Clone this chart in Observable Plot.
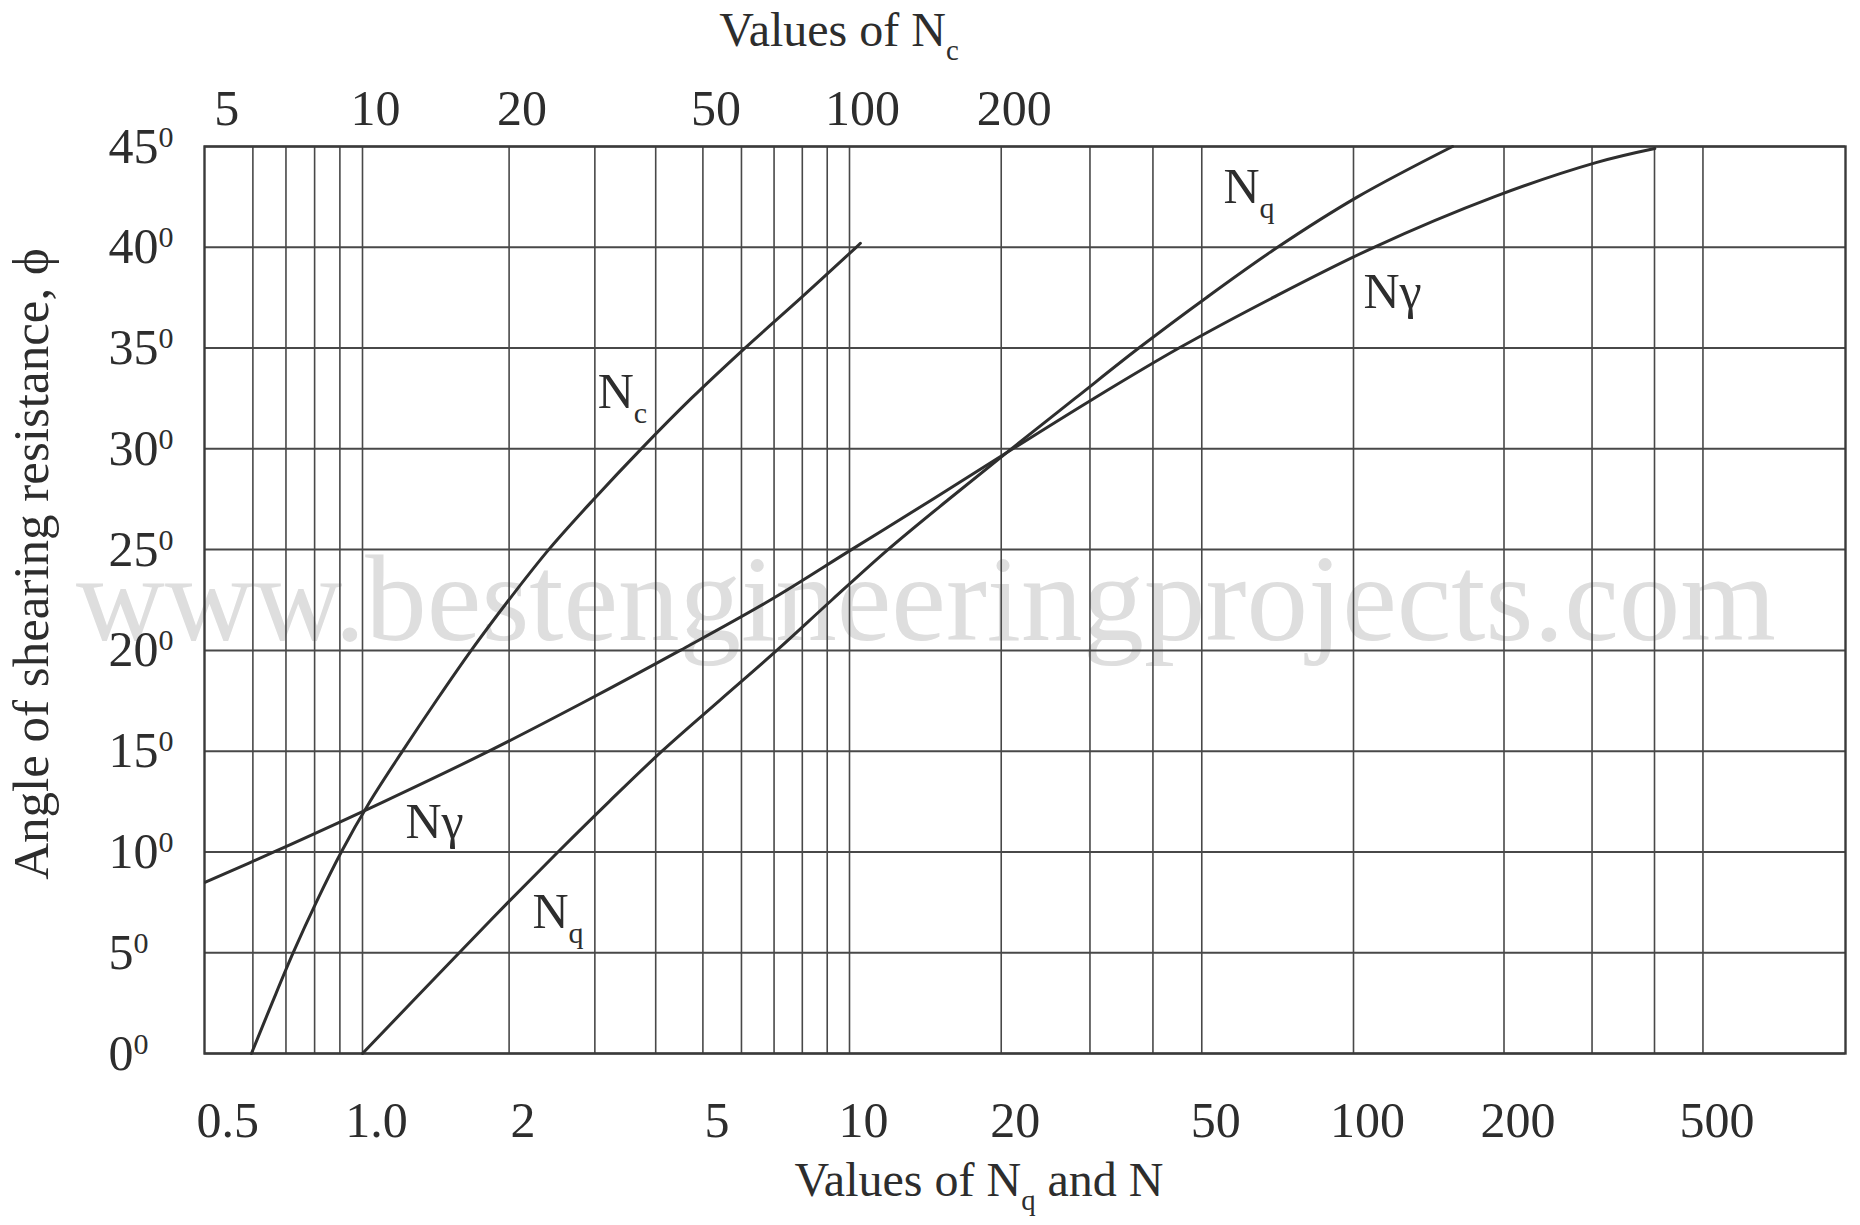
<!DOCTYPE html>
<html>
<head>
<meta charset="utf-8">
<script src="https://cdn.jsdelivr.net/npm/d3@7"></script>
<script src="https://cdn.jsdelivr.net/npm/@observablehq/plot@0.6"></script>
<style>
  html, body { margin: 0; padding: 0; background: #ffffff; }
  svg { display: block; }
</style>
</head>
<body>
<div id="chart"></div>
<script>
// ---- Data ----
// Angle of shearing resistance (degrees) and Nc (top axis values)
const phiNc = [0, 2.5, 5, 7.5, 10, 12.5, 15, 17.5, 20, 22.5, 25, 27.5, 30, 32.5, 35, 37.5, 40, 40.2];
const valNc = [5.96, 6.56, 7.24, 8.06, 9.06, 10.36, 12.08, 14.17, 16.72, 19.97, 24.12, 29.85, 37.36, 47.32, 61.0, 79.6, 103.1, 105.1];

// Nq (bottom axis values)
const phiNq = [0, 5, 7.5, 10, 12.5, 15, 17.5, 20, 22.5, 25, 27.5, 30, 32.5, 35, 37.5, 40, 42.5, 45];
const valNq = [1.0, 1.58, 1.99, 2.52, 3.21, 4.12, 5.40, 7.09, 9.20, 11.92, 15.74, 20.95, 28.02, 37.5, 51.05, 70.68, 101.9, 157.8];

// N-gamma (bottom axis values)
const phiNg = [8.5, 10, 12.5, 15, 17.5, 20, 22.5, 25, 27.5, 30, 32.5, 35, 37.5, 40, 42.5, 44.2, 44.9];
const valNg = [0.481, 0.662, 1.107, 1.818, 2.884, 4.49, 6.88, 10.09, 14.63, 21.09, 30.55, 45.06, 69.16, 109.9, 191.0, 305.5, 400.6];

// Axis ticks / labels
const ncTicks = [5, 10, 20, 50, 100, 200];           // top axis: values of Nc
const ncPerN = 10;                                    // Nc axis = 10 x bottom axis
const nTicks = [0.5, 1, 2, 5, 10, 20, 50, 100, 200, 500];
const nTickLabels = ["0.5", "1.0", "2", "5", "10", "20", "50", "100", "200", "500"];
const gridN = [0.6, 0.7, 0.8, 0.9, 1, 2, 3, 4, 5, 6, 7, 8, 9, 10, 20, 30, 40, 50, 100, 200, 300, 400, 500];
const phiTicks = [0, 5, 10, 15, 20, 25, 30, 35, 40, 45];

// Curve labels (anchored in data space, bottom-axis units)
const labelText = ["N_c", "N_q", "Nγ", "Nγ", "N_q"];
const labelN = [3.04, 55.2, 104.7, 1.225, 2.234];
const labelPhi = [32.05, 42.22, 37.01, 10.67, 6.25];

const titleTop = "Values of N_c";
const titleBottom = "Values of N_q and N";
const titleY = "Angle of shearing resistance, ϕ";
const watermark = "www.bestengineeringprojects.com";

// ---- Build tables ----
const ncData = phiNc.map((p, i) => ({phi: p, n: valNc[i] / ncPerN}));
const nqData = phiNq.map((p, i) => ({phi: p, n: valNq[i]}));
const ngData = phiNg.map((p, i) => ({phi: p, n: valNg[i]}));
const labels = labelText.map((t, i) => ({t, n: labelN[i], phi: labelPhi[i]}));
const nLabelMap = new Map(nTicks.map((v, i) => [v, nTickLabels[i]]));

const ink = "#2d2d2d";
const gridColor = "#484848";

const chart = Plot.plot({
  width: 1860,
  height: 1225,
  marginTop: 146,
  marginRight: 15,
  marginBottom: 172,
  marginLeft: 204,
  style: {
    fontFamily: '"Liberation Serif", "Times New Roman", Times, serif',
    color: ink,
    background: "#ffffff",
    overflow: "visible"
  },
  x: {type: "log", domain: [0.48, 1, 10, 100, 964], range: [204.5, 362, 849, 1353, 1845]},
  y: {type: "linear", domain: [0, 45], range: [1053, 146]},
  marks: [
    Plot.text([watermark], {frameAnchor: "middle", dx: -99, dy: 40, lineAnchor: "bottom", fontSize: 123, fill: "#dedede"}),
    Plot.gridX(gridN, {stroke: gridColor, strokeOpacity: 1, strokeWidth: 1.6}),
    Plot.gridY(phiTicks, {stroke: gridColor, strokeOpacity: 1, strokeWidth: 2}),
    Plot.frame({stroke: "#3a3a3a", strokeWidth: 2.4}),
    Plot.line(ncData, {x: "n", y: "phi", curve: "catmull-rom", stroke: "#2e2e2e", strokeWidth: 3}),
    Plot.line(nqData, {x: "n", y: "phi", curve: "catmull-rom", stroke: "#2e2e2e", strokeWidth: 3}),
    Plot.line(ngData, {x: "n", y: "phi", curve: "catmull-rom", stroke: "#2e2e2e", strokeWidth: 3}),
    Plot.text(labels, {x: "n", y: "phi", text: "t", textAnchor: "start", lineAnchor: "bottom", fontSize: 50, fill: ink}),
    Plot.axisX(nTicks, {anchor: "bottom", tickSize: 0, tickPadding: 0, lineAnchor: "bottom", dx: 14, dy: 83,
      tickFormat: d => nLabelMap.get(d), fontSize: 50, label: null}),
    Plot.axisX(ncTicks.map(v => v / ncPerN), {anchor: "top", tickSize: 0, tickPadding: 0, lineAnchor: "bottom", dx: 13, dy: -22,
      tickFormat: d => String(Math.round(d * ncPerN)), fontSize: 50, label: null}),
    Plot.axisY(phiTicks, {anchor: "left", tickSize: 0, tickPadding: 0, textAnchor: "start", dx: -96,
      tickFormat: d => d + "^0", fontSize: 50, label: null}),
    Plot.text([titleTop], {frameAnchor: "top", dx: -186, dy: -101, lineAnchor: "bottom", fontSize: 48, fill: ink}),
    Plot.text([titleBottom], {frameAnchor: "bottom", dx: -46, dy: 142, lineAnchor: "bottom", fontSize: 48, fill: ink}),
    Plot.text([titleY], {frameAnchor: "left", rotate: -90, textAnchor: "middle", dx: -157, dy: -36, lineAnchor: "bottom", fontSize: 51, fill: ink})
  ]
});

// Turn "_x" into subscripts and "^x" into superscripts
const NS = "http://www.w3.org/2000/svg";
chart.querySelectorAll("text").forEach(t => {
  const targets = t.querySelector("tspan") ? Array.from(t.querySelectorAll("tspan")) : [t];
  targets.forEach(node => {
    const s = node.textContent;
    if (!/[_^]/.test(s)) return;
    node.textContent = "";
    const re = /([_^])(\S)/g;
    let last = 0, m;
    while ((m = re.exec(s))) {
      if (m.index > last) node.appendChild(document.createTextNode(s.slice(last, m.index)));
      const sp = document.createElementNS(NS, "tspan");
      sp.setAttribute("font-size", "0.6em");
      sp.setAttribute("baseline-shift", m[1] === "_" ? "-0.5em" : "0.55em");
      sp.textContent = m[2];
      node.appendChild(sp);
      last = m.index + m[0].length;
    }
    if (last < s.length) node.appendChild(document.createTextNode(s.slice(last)));
  });
});

document.getElementById("chart").appendChild(chart);
</script>
</body>
</html>
